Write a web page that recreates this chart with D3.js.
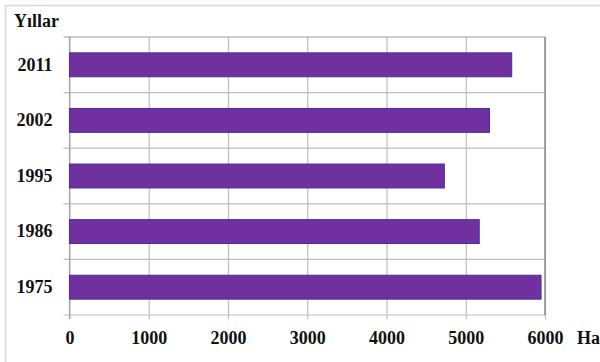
<!DOCTYPE html>
<html>
<head>
<meta charset="utf-8">
<script src="https://cdn.jsdelivr.net/npm/d3@7"></script>
<style>
  html, body { margin: 0; padding: 0; background: #fff; }
  svg { display: block; }
  text { font-family: "Liberation Serif", "Times New Roman", serif; font-weight: bold; fill: #111; }
</style>
</head>
<body>
<svg id="chart" width="600" height="362"></svg>
<script>
// Areas by year (ha)
const years = ["2011", "2002", "1995", "1986", "1975"];
const areas = [5580, 5300, 4730, 5170, 5950];
const xTicks = [0, 1000, 2000, 3000, 4000, 5000, 6000];
const yTitle = "Yıllar";
const xUnit = "Ha";

const svg = d3.select("#chart");
const plotLeft = 69.5, plotRight = 545, plotTop = 37, plotBottom = 315;

const x = d3.scaleLinear().domain([0, 6000]).range([plotLeft, plotRight]);
const y = d3.scaleBand().domain(years).range([plotTop, plotBottom])
  .paddingInner(0.57).paddingOuter(0.285);

// outer frame (top and left edges)
svg.append("line").attr("x1", 5).attr("x2", 600).attr("y1", 5.5).attr("y2", 5.5)
  .attr("stroke", "#d9d9d9").attr("stroke-width", 1.5);
svg.append("line").attr("x1", 5.5).attr("x2", 5.5).attr("y1", 5).attr("y2", 362)
  .attr("stroke", "#d9d9d9").attr("stroke-width", 1.5);

// vertical grid + tick marks + labels
const xAxis = svg.append("g")
  .attr("transform", `translate(0,${plotBottom + 4})`)
  .call(d3.axisBottom(x).tickValues(xTicks).tickFormat(d3.format("d"))
    .tickSize(-(plotBottom + 4 - plotTop)).tickPadding(12));
xAxis.select(".domain").remove();
xAxis.selectAll(".tick line").attr("stroke", "#bdbdbd").attr("stroke-width", 1.2);
xAxis.selectAll(".tick text").style("font-size", "18px")
  .style("font-family", '"Liberation Serif", "Times New Roman", serif')
  .style("font-weight", "bold").attr("fill", "#111");

// horizontal band boundaries
const step = y.step();
const bounds = d3.range(years.length + 1).map(i => plotTop + i * step);
svg.append("g").selectAll("line").data(bounds).join("line")
  .attr("x1", plotLeft - 6).attr("x2", plotRight)
  .attr("y1", d => d).attr("y2", d => d)
  .attr("stroke", (d, i) => i === 0 ? "#9a9a9a" : "#bdbdbd")
  .attr("stroke-width", 1.2);

// left axis line and right frame
svg.append("line").attr("x1", plotLeft).attr("x2", plotLeft).attr("y1", plotTop).attr("y2", plotBottom + 4)
  .attr("stroke", "#a6a6a6").attr("stroke-width", 1.2);
svg.append("line").attr("x1", plotRight).attr("x2", plotRight).attr("y1", plotTop).attr("y2", plotBottom)
  .attr("stroke", "#8c8c8c").attr("stroke-width", 1.5);

// bars
svg.append("g").selectAll("rect").data(years).join("rect")
  .attr("x", x(0))
  .attr("y", d => y(d))
  .attr("width", (d, i) => x(areas[i]) - x(0))
  .attr("height", y.bandwidth())
  .attr("fill", "#7030a0")
  .attr("stroke", "#41309a")
  .attr("stroke-width", 1);

// year labels
const yAxis = svg.append("g")
  .attr("transform", `translate(${plotLeft},0)`)
  .call(d3.axisLeft(y).tickSize(0).tickPadding(17));
yAxis.select(".domain").remove();
yAxis.selectAll(".tick text").style("font-size", "18px")
  .style("font-family", '"Liberation Serif", "Times New Roman", serif')
  .style("font-weight", "bold").attr("fill", "#111");

// titles
svg.append("text").attr("x", 14).attr("y", 27).style("font-size", "18px").text(yTitle);
svg.append("text").attr("x", 577).attr("y", 343.5).style("font-size", "18px").text(xUnit);
</script>
</body>
</html>
